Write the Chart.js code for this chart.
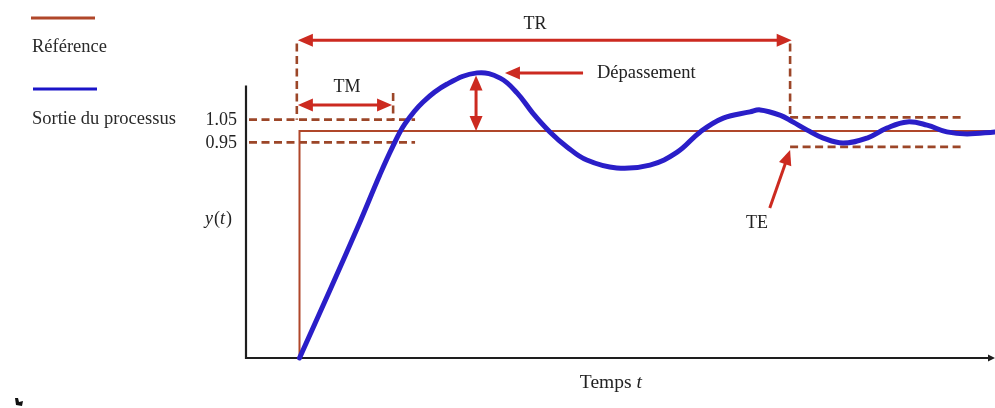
<!DOCTYPE html>
<html><head><meta charset="utf-8">
<script src="https://cdn.jsdelivr.net/npm/chart.js@4/dist/chart.umd.min.js"></script>
<style>html,body{margin:0;padding:0;background:#fff;}canvas{display:block;}</style>
</head><body>
<canvas id="c" width="995" height="408"></canvas>
<script>
// ---- data ----
const timeValues   = [1.0, 1.57, 2.13, 2.50, 2.74, 2.97, 3.31, 3.76, 4.32, 4.75, 5.07, 5.36, 5.68, 6.00, 6.37, 6.93, 7.55, 8.06, 8.49, 8.92, 9.42, 9.61, 9.98, 10.22, 10.49, 10.79, 11.16, 11.61, 11.98, 12.36, 12.73, 13.10, 13.48, 14.0];
const outputValues = [0.0, 0.300, 0.599, 0.806, 0.93, 1.031, 1.128, 1.207, 1.256, 1.233, 1.167, 1.079, 0.996, 0.930, 0.872, 0.837, 0.850, 0.907, 0.996, 1.057, 1.084, 1.093, 1.070, 1.040, 1.004, 0.969, 0.947, 0.969, 1.013, 1.040, 1.026, 0.996, 0.987, 0.996];
const referenceTime   = [1.0, 1.0, 14.0];
const referenceValues = [0.0, 1.0, 1.0];
const yTickValues = [1.05, 0.95];
const yTickLabels = ['1.05', '0.95'];
const settleBand = [1.06, 0.93];
const seriesNames = ['Référence', 'Sortie du processus'];
const markers = { stepTime: 0.95, tmEnd: 2.75, overshootTime: 4.3, peak: 1.245, trEnd: 10.17 };
const labels = { tr: 'TR', tm: 'TM', overshoot: 'Dépassement', te: 'TE', yTitle: 'y(t)', xTitle: 'Temps ' };

const C_REF = '#b0472a', C_DASH = '#9c4628', C_ARROW = '#cc2a20', C_BLUE = '#2a1ec8';
const SERIF = '"Liberation Serif", "Times New Roman", serif';

function arrowHead(ctx, x1, y1, x2, y2, len, hw) {
  const a = Math.atan2(y2 - y1, x2 - x1);
  ctx.beginPath();
  ctx.moveTo(x2, y2);
  ctx.lineTo(x2 - len * Math.cos(a) + hw * Math.sin(a), y2 - len * Math.sin(a) - hw * Math.cos(a));
  ctx.lineTo(x2 - len * Math.cos(a) - hw * Math.sin(a), y2 - len * Math.sin(a) + hw * Math.cos(a));
  ctx.closePath();
  ctx.fill();
}
function arrow(ctx, x1, y1, x2, y2, both) {
  ctx.save();
  ctx.strokeStyle = C_ARROW; ctx.fillStyle = C_ARROW; ctx.lineWidth = 3;
  const a = Math.atan2(y2 - y1, x2 - x1);
  const s = both ? 8 : 0;
  ctx.beginPath();
  ctx.moveTo(x1 + s * Math.cos(a), y1 + s * Math.sin(a));
  ctx.lineTo(x2 - 8 * Math.cos(a), y2 - 8 * Math.sin(a));
  ctx.stroke();
  arrowHead(ctx, x1, y1, x2, y2, 15, 6.5);
  if (both) arrowHead(ctx, x2, y2, x1, y1, 15, 6.5);
  ctx.restore();
}
function dashed(ctx, x1, y1, x2, y2) {
  ctx.save();
  ctx.strokeStyle = C_DASH; ctx.lineWidth = 2.6; ctx.setLineDash([8, 4.5]);
  ctx.beginPath(); ctx.moveTo(x1, y1); ctx.lineTo(x2, y2); ctx.stroke();
  ctx.restore();
}

const underlay = {
  id: 'underlay',
  beforeDatasetsDraw(chart) {
    const ctx = chart.ctx, X = chart.scales.x, Y = chart.scales.y;
    const px = v => X.getPixelForValue(v), py = v => Y.getPixelForValue(v);
    // axes
    ctx.save();
    ctx.strokeStyle = '#1e1e1e'; ctx.lineWidth = 2.2;
    ctx.beginPath(); ctx.moveTo(px(0), py(1.20)); ctx.lineTo(px(0), py(0)); ctx.lineTo(px(14) - 4, py(0)); ctx.stroke();
    ctx.fillStyle = '#1e1e1e';
    arrowHead(ctx, px(0), py(0), px(14), py(0), 7, 3.5);
    ctx.restore();
    // tolerance dashes (left)
    yTickValues.forEach(v => dashed(ctx, px(0) + 3, py(v), px(3.16), py(v)));
    // settling band (right)
    settleBand.forEach(v => dashed(ctx, px(markers.trEnd), py(v), px(13.4), py(v)));
    // vertical dashed markers
    dashed(ctx, px(markers.stepTime), py(1.385), px(markers.stepTime), py(1.05));
    dashed(ctx, px(markers.trEnd), py(1.385), px(markers.trEnd), py(settleBand[0]));
    dashed(ctx, px(markers.tmEnd), py(1.167), px(markers.tmEnd), py(1.05));
  },
  afterDatasetsDraw(chart) {
    const ctx = chart.ctx, X = chart.scales.x, Y = chart.scales.y;
    const px = v => X.getPixelForValue(v), py = v => Y.getPixelForValue(v);
    // arrows
    arrow(ctx, px(0.97), py(1.40), px(10.2), py(1.40), true);               // TR
    arrow(ctx, px(0.97), py(1.115), px(2.73), py(1.115), true);             // TM
    arrow(ctx, px(markers.overshootTime), py(1.0), px(markers.overshootTime), py(markers.peak), true);
    arrow(ctx, px(6.3), py(1.256), px(4.84), py(1.256), false);             // Dépassement
    arrow(ctx, px(9.79), py(0.661), px(10.17), py(0.916), false);           // TE
    // texts
    ctx.save();
    ctx.fillStyle = '#222';
    ctx.font = '18px ' + SERIF;
    ctx.textBaseline = 'middle';
    ctx.textAlign = 'right';
    yTickValues.forEach((v, i) => ctx.fillText(yTickLabels[i], px(0) - 9, py(v) + 1));
    ctx.textAlign = 'center';
    ctx.fillText(labels.tr, px(5.4), py(1.472));
    ctx.fillText(labels.tm, px(1.89), py(1.194));
    ctx.fillText(labels.te, px(9.55), py(0.595));
    ctx.textAlign = 'left';
    ctx.font = '18.5px ' + SERIF;
    ctx.fillText(labels.overshoot, px(6.56), py(1.256));
    // y(t)
    ctx.font = 'italic 18px ' + SERIF;
    ctx.fillText(labels.yTitle[0], px(0) - 41, py(0.61));
    ctx.font = '18px ' + SERIF;
    ctx.fillText('(', px(0) - 32, py(0.61));
    ctx.font = 'italic 18px ' + SERIF;
    ctx.fillText('t', px(0) - 26, py(0.61));
    ctx.font = '18px ' + SERIF;
    ctx.fillText(')', px(0) - 20, py(0.61));
    // Temps t
    ctx.font = '19.5px ' + SERIF;
    const w1 = ctx.measureText(labels.xTitle).width;
    ctx.font = 'italic 19.5px ' + SERIF;
    const w2 = ctx.measureText('t').width;
    const cx = px(6.82), ty = py(0) + 25;
    ctx.font = '19.5px ' + SERIF;
    ctx.fillText(labels.xTitle, cx - (w1 + w2) / 2, ty);
    ctx.font = 'italic 19.5px ' + SERIF;
    ctx.fillText('t', cx - (w1 + w2) / 2 + w1, ty);
    // legend
    ctx.lineWidth = 3;
    ctx.strokeStyle = C_REF;
    ctx.beginPath(); ctx.moveTo(31, 18); ctx.lineTo(95, 18); ctx.stroke();
    ctx.strokeStyle = '#1a14c8';
    ctx.beginPath(); ctx.moveTo(33, 89); ctx.lineTo(97, 89); ctx.stroke();
    ctx.font = '18.5px ' + SERIF;
    ctx.textBaseline = 'alphabetic';
    ctx.fillStyle = '#2a2a2a';
    ctx.fillText(seriesNames[0], 32, 52);
    ctx.fillText(seriesNames[1], 32, 124);
    // small corner mark
    ctx.fillStyle = '#111';
    ctx.beginPath(); ctx.moveTo(15, 398); ctx.lineTo(18, 398); ctx.lineTo(19, 402); ctx.lineTo(23, 401); ctx.lineTo(22, 406); ctx.lineTo(16, 405); ctx.closePath(); ctx.fill();
    ctx.restore();
  }
};

new Chart(document.getElementById('c'), {
  type: 'line',
  data: {
    datasets: [
      {
        label: seriesNames[0],
        data: referenceTime.map((t, i) => ({ x: t, y: referenceValues[i] })),
        borderColor: C_REF, borderWidth: 2, pointRadius: 0, tension: 0, fill: false, order: 2, clip: false
      },
      {
        label: seriesNames[1],
        data: timeValues.map((t, i) => ({ x: t, y: outputValues[i] })),
        borderColor: C_BLUE, borderWidth: 5, pointRadius: 0, tension: 0.4, fill: false, order: 1, clip: false,
        borderCapStyle: 'round', borderJoinStyle: 'round'
      }
    ]
  },
  options: {
    responsive: false, animation: false, devicePixelRatio: 1,
    layout: { padding: { left: 246, right: 0, top: 17.5, bottom: 50 } },
    scales: {
      x: { type: 'linear', min: 0, max: 14, display: false },
      y: { type: 'linear', min: 0, max: 1.5, display: false }
    },
    plugins: { legend: { display: false }, tooltip: { enabled: false } }
  },
  plugins: [underlay]
});
</script>
</body></html>
